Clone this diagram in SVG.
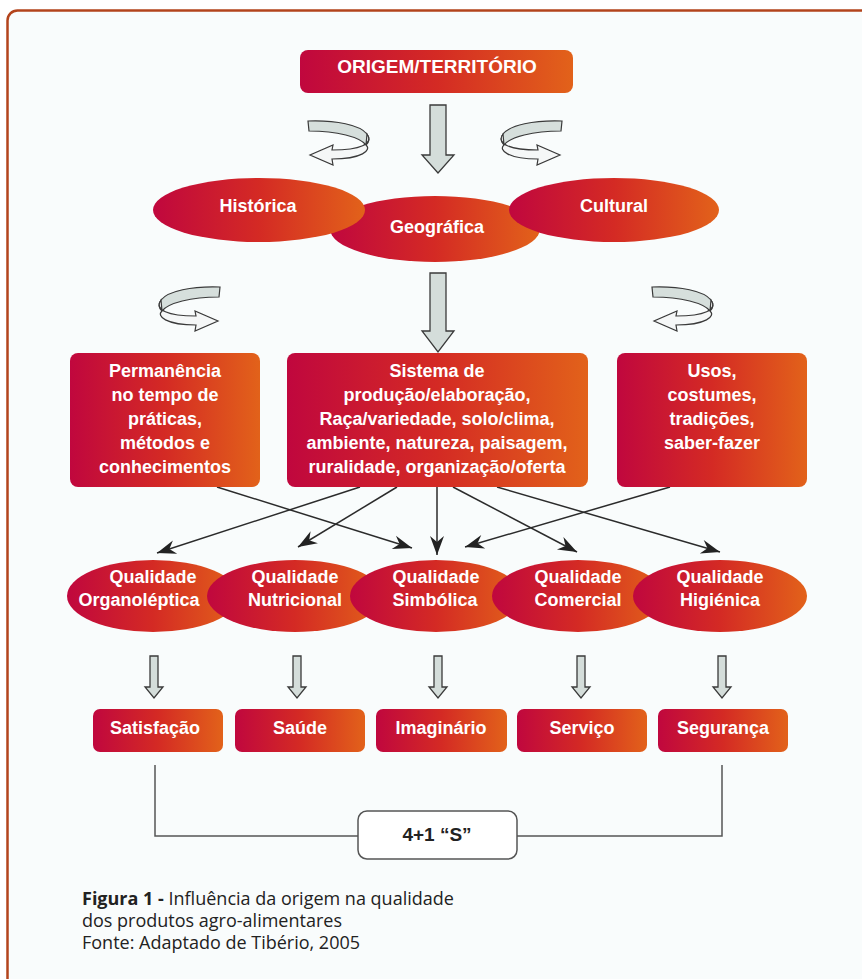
<svg xmlns="http://www.w3.org/2000/svg" xmlns:xlink="http://www.w3.org/1999/xlink" width="862" height="979" viewBox="0 0 862 979">
<style>
.t{font-family:"Liberation Sans",Arial,sans-serif;font-weight:bold;font-size:18px;fill:#ffffff;text-anchor:middle}
.blk{fill:#d4ddda;stroke:#3a3a3a;stroke-width:1.3;stroke-linejoin:miter}
.cb{fill:#d6dfdc;stroke:#3a3a3a;stroke-width:1.2}
.cf{fill:#f5f7f7;stroke:#3a3a3a;stroke-width:1.2}
.con{stroke:#2b2b2b;stroke-width:1.5;fill:none;marker-end:url(#ah)}
.br{stroke:#555;stroke-width:1.5;fill:none}
.cap{font-family:"Open Sans","Noto Sans",sans-serif;font-size:18px;fill:#222}
</style>
<defs>
<linearGradient id="g" x1="0" y1="0" x2="1" y2="0">
<stop offset="0" stop-color="#c0073e"/>
<stop offset="0.5" stop-color="#d42a24"/>
<stop offset="1" stop-color="#e2621a"/>
</linearGradient>
<marker id="ah" markerUnits="userSpaceOnUse" markerWidth="22" markerHeight="16" viewBox="-21 -8 22 16" refX="0" refY="0" orient="auto">
<path d="M0,0 L-19,-7 L-13,0 L-19,7 Z" fill="#222"/>
</marker>
<g id="curl">
<path class="cb" d="M308,121 C336,120 360,125 367,134 C370,138 369,142 366,145 C360,137 337,131 309,131 Z"/>
<path class="cf" d="M367,134 C374,144 360,150 332,150 L333,145 L310,155 L333,165 L332,159 C362,159 372,150 366,145 Z"/>
</g>
<path id="sa" class="blk" d="M-4,656 H4 V687 H9 L0,698 L-9,687 H-4 Z"/>
</defs>
<rect x="0" y="0" width="862" height="979" fill="#ffffff"/>
<rect id="frame" x="7.5" y="10.5" width="900" height="1000" rx="10" fill="#f9fcfc" stroke="#b3441c" stroke-width="2.5"/>

<g id="connectors">
<path class="blk" d="M430,105 H446 V155 H454 L438,173 L422,155 H430 Z"/>
<path class="blk" d="M430,273 H446 V331 H454 L438,352 L422,331 H430 Z"/>
<use xlink:href="#curl"/>
<use xlink:href="#curl" transform="translate(870,0) scale(-1,1)"/>
<use xlink:href="#curl" transform="translate(528,166) scale(-1,1)"/>
<use xlink:href="#curl" transform="translate(344,166)"/>
<line class="con" x1="217" y1="487" x2="412" y2="548"/>
<line class="con" x1="360" y1="487" x2="157" y2="553"/>
<line class="con" x1="397" y1="487" x2="298" y2="547"/>
<line class="con" x1="437" y1="487" x2="437" y2="555"/>
<line class="con" x1="453" y1="487" x2="577" y2="552"/>
<line class="con" x1="497" y1="487" x2="720" y2="552"/>
<line class="con" x1="670" y1="487" x2="465" y2="547"/>
<use xlink:href="#sa" x="154"/>
<use xlink:href="#sa" x="297"/>
<use xlink:href="#sa" x="438"/>
<use xlink:href="#sa" x="581"/>
<use xlink:href="#sa" x="722"/>
<path class="br" d="M155,765 V836 H358"/>
<path class="br" d="M517,836 H722 V765"/>
</g>

<g id="origem">
<rect x="300" y="50" width="273" height="43" rx="8" fill="url(#g)"/>
<text class="t" x="437" y="73" style="font-size:19px">ORIGEM/TERRITÓRIO</text>
</g>

<g id="geografica">
<ellipse cx="435" cy="229" rx="105" ry="33" fill="url(#g)"/>
<text class="t" x="437" y="233">Geográfica</text>
</g>
<g id="historica">
<ellipse cx="259" cy="210" rx="106" ry="32" fill="url(#g)"/>
<text class="t" x="258" y="212">Histórica</text>
</g>
<g id="cultural">
<ellipse cx="614" cy="210" rx="105" ry="32" fill="url(#g)"/>
<text class="t" x="614" y="212">Cultural</text>
</g>

<g id="permanencia">
<rect x="70" y="353" width="190" height="134" rx="8" fill="url(#g)"/>
<text class="t" x="165" y="377">Permanência</text>
<text class="t" x="165" y="401">no tempo de</text>
<text class="t" x="165" y="425">práticas,</text>
<text class="t" x="165" y="449">métodos e</text>
<text class="t" x="165" y="473">conhecimentos</text>
</g>
<g id="sistema">
<rect x="287" y="353" width="301" height="134" rx="8" fill="url(#g)"/>
<text class="t" x="437" y="377">Sistema de</text>
<text class="t" x="437" y="401">produção/elaboração,</text>
<text class="t" x="437" y="425">Raça/variedade, solo/clima,</text>
<text class="t" x="437" y="449">ambiente, natureza, paisagem,</text>
<text class="t" x="437" y="473">ruralidade, organização/oferta</text>
</g>
<g id="usos">
<rect x="617" y="353" width="190" height="134" rx="8" fill="url(#g)"/>
<text class="t" x="712" y="377">Usos,</text>
<text class="t" x="712" y="401">costumes,</text>
<text class="t" x="712" y="425">tradições,</text>
<text class="t" x="712" y="449">saber-fazer</text>
</g>

<g id="q-organoleptica">
<ellipse cx="153" cy="596" rx="86" ry="36" fill="url(#g)"/>
<text class="t" x="153" y="583">Qualidade</text>
<text class="t" x="139" y="606">Organoléptica</text>
</g>
<g id="q-nutricional">
<ellipse cx="295" cy="596" rx="88" ry="36" fill="url(#g)"/>
<text class="t" x="295" y="583">Qualidade</text>
<text class="t" x="295" y="606">Nutricional</text>
</g>
<g id="q-simbolica">
<ellipse cx="436" cy="596" rx="86" ry="36" fill="url(#g)"/>
<text class="t" x="436" y="583">Qualidade</text>
<text class="t" x="435" y="606">Simbólica</text>
</g>
<g id="q-comercial">
<ellipse cx="578" cy="596" rx="86" ry="36" fill="url(#g)"/>
<text class="t" x="578" y="583">Qualidade</text>
<text class="t" x="578" y="606">Comercial</text>
</g>
<g id="q-higienica">
<ellipse cx="720" cy="596" rx="87" ry="36" fill="url(#g)"/>
<text class="t" x="720" y="583">Qualidade</text>
<text class="t" x="720" y="606">Higiénica</text>
</g>

<g id="satisfacao">
<rect x="93" y="709" width="130" height="43" rx="7" fill="url(#g)"/>
<text class="t" x="155" y="734">Satisfação</text>
</g>
<g id="saude">
<rect x="235" y="709" width="130" height="43" rx="7" fill="url(#g)"/>
<text class="t" x="300" y="734">Saúde</text>
</g>
<g id="imaginario">
<rect x="376" y="709" width="131" height="43" rx="7" fill="url(#g)"/>
<text class="t" x="441" y="734">Imaginário</text>
</g>
<g id="servico">
<rect x="517" y="709" width="130" height="43" rx="7" fill="url(#g)"/>
<text class="t" x="582" y="734">Serviço</text>
</g>
<g id="seguranca">
<rect x="658" y="709" width="130" height="43" rx="7" fill="url(#g)"/>
<text class="t" x="723" y="734">Segurança</text>
</g>

<g id="s41">
<rect x="358" y="811" width="159" height="48" rx="9" fill="#ffffff" stroke="#555" stroke-width="1.5"/>
<text class="t" x="437" y="841" style="fill:#222;font-size:19px">4+1 “S”</text>
</g>

<g id="caption">
<text class="cap" x="82" y="905"><tspan font-weight="bold">Figura 1 -</tspan> Influência da origem na qualidade</text>
<text class="cap" x="82" y="927">dos produtos agro-alimentares</text>
<text class="cap" x="82" y="949">Fonte: Adaptado de Tibério, 2005</text>
</g>
</svg>
